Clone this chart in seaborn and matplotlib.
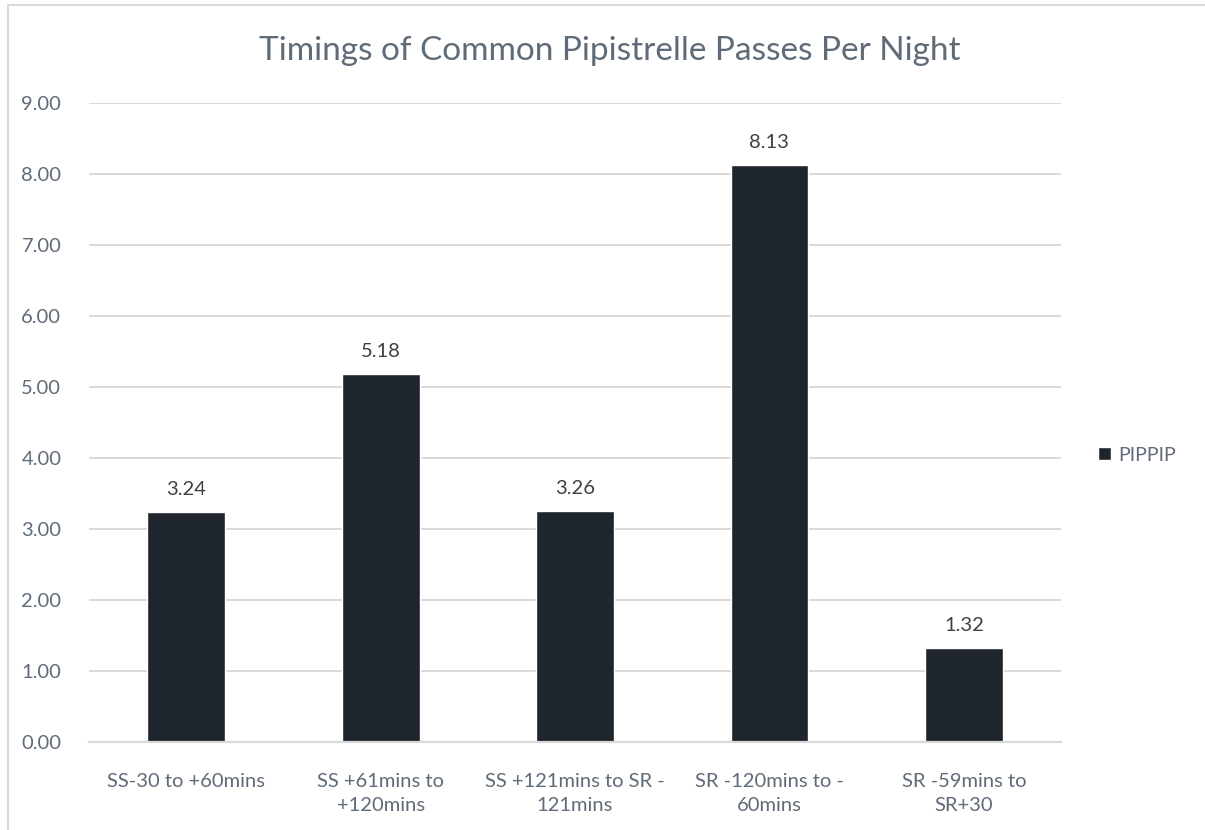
import pandas as pd
import seaborn as sns
import matplotlib.pyplot as plt
from matplotlib.lines import Line2D

categories = [
    "SS-30 to +60mins",
    "SS +61mins to\n+120mins",
    "SS +121mins to SR -\n121mins",
    "SR -120mins to -\n60mins",
    "SR -59mins to\nSR+30",
]
passes = [3.24, 5.18, 3.26, 8.13, 1.32]
series = ["PIPPIP"] * len(categories)

df = pd.DataFrame({"timing": categories, "passes": passes, "series": series})

sns.set_theme(style="white")
plt.rcParams["font.family"] = ["Lato", "DejaVu Sans"]

text_col = "#5f6b78"
grid_col = "#d9d9d9"
bar_col = "#1f252d"

fig = plt.figure(figsize=(12.05, 8.3), dpi=100)
ax = fig.add_axes([0.0739, 0.106, 0.8066, 0.770])

sns.barplot(data=df, x="timing", y="passes", hue="series",
            palette=[bar_col], width=0.4, ax=ax, saturation=1)

ax.set_ylim(0, 9)
ax.set_yticks(range(10))
ax.set_yticklabels([f"{v:.2f}" for v in range(10)])
ax.set_xlim(-0.5, 4.5)
ax.set_xlabel("")
ax.set_ylabel("")
ax.grid(axis="y", color=grid_col, linewidth=1.4)
ax.set_axisbelow(True)
for s in ["top", "right", "left"]:
    ax.spines[s].set_visible(False)
ax.spines["bottom"].set_color(grid_col)
ax.spines["bottom"].set_linewidth(1.6)
ax.tick_params(axis="both", length=0, labelsize=14.5, colors=text_col)
ax.tick_params(axis="y", pad=20)
ax.tick_params(axis="x", pad=22)
for lbl in ax.get_xticklabels():
    lbl.set_linespacing(1.55)

for c in ax.containers:
    ax.bar_label(c, fmt="%.2f", padding=10, fontsize=14.5, color="#404040")

ax.legend(loc="center left", bbox_to_anchor=(1.02, 0.449), frameon=False,
          handlelength=0.65, handleheight=0.65, handletextpad=0.4,
          fontsize=14, labelcolor=text_col)

fig.text(0.506, 0.938, "Timings of Common Pipistrelle Passes Per Night",
         ha="center", va="center", fontsize=24, color=text_col)

# chart frame
fig.add_artist(Line2D([0.0066, 0.0066], [0, 0.994], color=grid_col, linewidth=1.5))
fig.add_artist(Line2D([0.0066, 1], [0.994, 0.994], color=grid_col, linewidth=1.5))

fig.savefig("out.png", dpi=100)
